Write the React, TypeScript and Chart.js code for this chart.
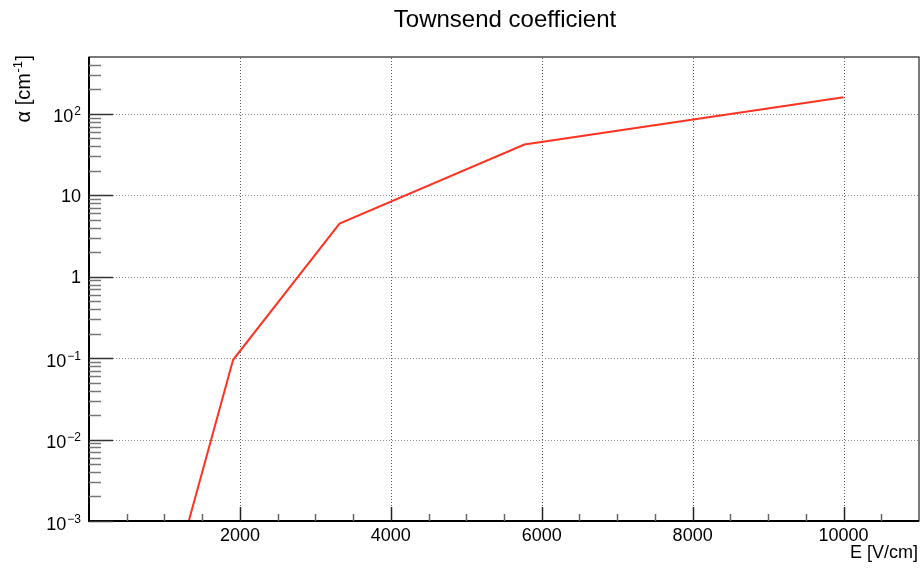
import React, { useEffect, useRef } from "react";
import { Chart, registerables } from "chart.js";

Chart.register(...registerables);

// Townsend coefficient α as a function of the electric field E
const E_VALUES = [1000, 1910, 3320, 5770, 10000];
const ALPHA_VALUES = [8.2e-5, 0.0955, 4.5, 42, 160];

const X_MIN = 0;
const X_MAX = 11000;
const Y_MIN = 1e-3;
const Y_MAX = 500;

const X_MAJOR_TICKS = [2000, 4000, 6000, 8000, 10000];
const X_MINOR_STEP = 500;
const Y_DECADES = [-3, -2, -1, 0, 1, 2];

const TITLE = "Townsend coefficient";
const X_TITLE = "E [V/cm]";

const FONT = '"Liberation Sans", Arial, Helvetica, sans-serif';

function decadeLabel(e: number): { base: string; sup: string } {
  if (e === 0) return { base: "1", sup: "" };
  if (e === 1) return { base: "10", sup: "" };
  return { base: "10", sup: e < 0 ? "\u2212" + String(-e) : String(e) };
}

const rootStyle = {
  id: "rootStyle",
  beforeDatasetsDraw(chart: any) {
    const { ctx, chartArea: a, scales } = chart;
    const xs = scales.x;
    const ys = scales.y;
    ctx.save();
    ctx.lineWidth = 1;
    ctx.setLineDash([1, 2]);
    // vertical grid
    ctx.strokeStyle = "#5a5a5a";
    for (const v of X_MAJOR_TICKS) {
      const px = Math.round(xs.getPixelForValue(v)) + 0.5;
      ctx.beginPath();
      ctx.moveTo(px, a.bottom);
      ctx.lineTo(px, a.top);
      ctx.stroke();
    }
    // horizontal grid
    ctx.strokeStyle = "#8a8a8a";
    for (const e of Y_DECADES) {
      const py = Math.round(ys.getPixelForValue(Math.pow(10, e))) + 0.5;
      ctx.beginPath();
      ctx.moveTo(a.left, py);
      ctx.lineTo(a.right, py);
      ctx.stroke();
    }
    ctx.restore();
  },
  afterDatasetsDraw(chart: any) {
    const { ctx, chartArea: a, scales } = chart;
    const xs = scales.x;
    const ys = scales.y;
    ctx.save();
    ctx.setLineDash([]);

    // frame
    ctx.strokeStyle = "#222";
    ctx.lineWidth = 1.2;
    ctx.strokeRect(a.left, a.top, a.right - a.left, a.bottom - a.top);

    // axis lines
    ctx.strokeStyle = "#000";
    ctx.lineWidth = 2;
    ctx.beginPath();
    ctx.moveTo(a.left, a.top);
    ctx.lineTo(a.left, a.bottom);
    ctx.lineTo(a.right, a.bottom);
    ctx.stroke();

    // x ticks
    ctx.lineWidth = 1.5;
    for (let v = X_MIN + X_MINOR_STEP; v < X_MAX; v += X_MINOR_STEP) {
      const px = Math.round(xs.getPixelForValue(v)) + 0.5;
      const major = X_MAJOR_TICKS.includes(v);
      ctx.strokeStyle = major ? "#222" : "#666";
      ctx.beginPath();
      ctx.moveTo(px, a.bottom);
      ctx.lineTo(px, a.bottom - (major ? 14 : 7));
      ctx.stroke();
    }

    // y ticks
    for (const e of Y_DECADES) {
      const dec = Math.pow(10, e);
      const py = Math.round(ys.getPixelForValue(dec)) + 0.5;
      ctx.strokeStyle = "#333";
      ctx.beginPath();
      ctx.moveTo(a.left, py);
      ctx.lineTo(a.left + 24, py);
      ctx.stroke();
      ctx.strokeStyle = "#777";
      for (let m = 2; m <= 9; m++) {
        const v = m * dec;
        if (v >= Y_MAX) break;
        const pm = Math.round(ys.getPixelForValue(v)) + 0.5;
        ctx.beginPath();
        ctx.moveTo(a.left, pm);
        ctx.lineTo(a.left + 12, pm);
        ctx.stroke();
      }
    }

    // x tick labels
    ctx.fillStyle = "#000";
    ctx.font = `18px ${FONT}`;
    ctx.textAlign = "center";
    ctx.textBaseline = "alphabetic";
    for (const v of X_MAJOR_TICKS) {
      ctx.fillText(String(v), xs.getPixelForValue(v), a.bottom + 20);
    }

    // y tick labels
    const labelRight = a.left - 8;
    for (const e of Y_DECADES) {
      const py = ys.getPixelForValue(Math.pow(10, e));
      const { base, sup } = decadeLabel(e);
      ctx.textAlign = "right";
      if (!sup) {
        ctx.font = `18px ${FONT}`;
        ctx.fillText(base, labelRight, py + 6.5);
      } else {
        ctx.font = `12px ${FONT}`;
        const sw = ctx.measureText(sup).width;
        ctx.fillText(sup, labelRight, py + 1.5);
        ctx.font = `18px ${FONT}`;
        ctx.fillText(base, labelRight - sw - 1, py + 8.5);
      }
    }

    // title
    ctx.font = `24px ${FONT}`;
    ctx.textAlign = "center";
    ctx.fillText(TITLE, 505, 27);

    // x axis title
    ctx.font = `18px ${FONT}`;
    ctx.textAlign = "right";
    ctx.fillText(X_TITLE, a.right - 1, a.bottom + 37);

    // y axis title, rotated, with superscript
    ctx.save();
    ctx.translate(29.5, a.top - 2);
    ctx.rotate(-Math.PI / 2);
    ctx.textAlign = "left";
    ctx.font = `20px ${FONT}`;
    const p1 = "\u03b1 [cm";
    const p3 = "]";
    const w1 = ctx.measureText(p1).width;
    const w3 = ctx.measureText(p3).width;
    ctx.font = `13px ${FONT}`;
    const p2 = "-1";
    const w2 = ctx.measureText(p2).width;
    let x0 = -(w1 + w2 + w3 + 1);
    ctx.font = `20px ${FONT}`;
    ctx.fillText(p1, x0, 0);
    x0 += w1;
    ctx.font = `13px ${FONT}`;
    ctx.fillText(p2, x0 + 0.5, -8);
    x0 += w2 + 1;
    ctx.font = `20px ${FONT}`;
    ctx.fillText(p3, x0, 0);
    ctx.restore();

    ctx.restore();
  },
};

export default function App() {
  const canvasRef = useRef<HTMLCanvasElement | null>(null);

  useEffect(() => {
    const canvas = canvasRef.current;
    if (!canvas) return;
    const chart = new Chart(canvas, {
      type: "line",
      data: {
        datasets: [
          {
            label: "alpha",
            data: E_VALUES.map((x, i) => ({ x, y: ALPHA_VALUES[i] })),
            borderColor: "#ff3322",
            borderWidth: 2,
            pointRadius: 0,
            tension: 0,
            fill: false,
          },
        ],
      },
      options: {
        responsive: false,
        animation: false,
        devicePixelRatio: 1,
        layout: { padding: { left: 89, top: 57, right: 3, bottom: 47 } },
        plugins: {
          legend: { display: false },
          title: { display: false },
          tooltip: { enabled: false },
        },
        scales: {
          x: { type: "linear", min: X_MIN, max: X_MAX, display: false },
          y: { type: "logarithmic", min: Y_MIN, max: Y_MAX, display: false },
        },
      },
      plugins: [rootStyle],
    });
    return () => chart.destroy();
  }, []);

  return (
    <div style={{ position: "absolute", left: 0, top: 0, width: 922, height: 568, background: "#fff" }}>
      <canvas ref={canvasRef} width={922} height={568} />
    </div>
  );
}
